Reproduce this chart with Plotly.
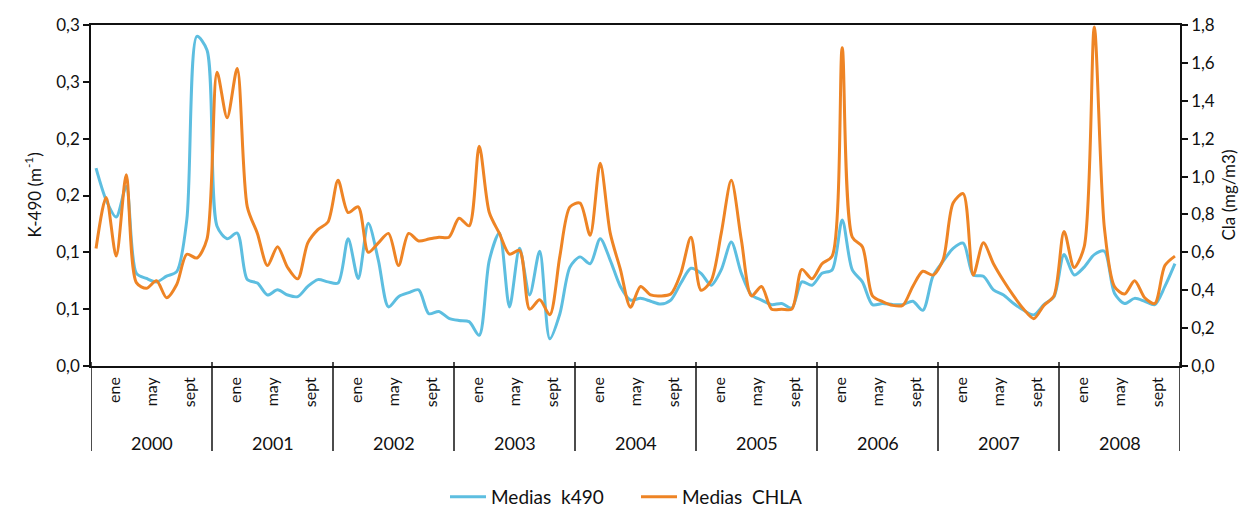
import plotly.graph_objects as go

years = ["2000", "2001", "2002", "2003", "2004", "2005", "2006", "2007", "2008"]
month_labels = ["ene", "may", "sept"]
month_offsets = [1.85, 5.5, 9.3]

k490_left_ticks = [0, 0.05, 0.10, 0.15, 0.20, 0.25, 0.30]
k490_left_text = ["0,0", "0,1", "0,1", "0,2", "0,2", "0,3", "0,3"]

k490 = [
    0.174, 0.146, 0.131, 0.158, 0.0815, 0.077, 0.074, 0.079, 0.083, 0.1285, 0.290, 0.278,
    0.123, 0.112, 0.117, 0.076, 0.073, 0.0625, 0.067, 0.0625, 0.061, 0.070, 0.076, 0.074,
    0.073, 0.112, 0.077, 0.1255, 0.093, 0.052, 0.061, 0.0645, 0.067, 0.046, 0.048, 0.042,
    0.040, 0.039, 0.027, 0.093, 0.117, 0.052, 0.1035, 0.0625, 0.101, 0.024, 0.046, 0.087,
    0.096, 0.090, 0.112, 0.093, 0.070, 0.058, 0.0595, 0.057, 0.0545, 0.058, 0.073, 0.086,
    0.0815, 0.071, 0.0845, 0.109, 0.0815, 0.0625, 0.058, 0.054, 0.055, 0.051, 0.074, 0.071,
    0.0815, 0.0845, 0.1285, 0.0845, 0.074, 0.054, 0.055, 0.054, 0.054, 0.057, 0.049, 0.079,
    0.092, 0.1035, 0.108, 0.080, 0.079, 0.067, 0.0625, 0.055, 0.049, 0.045, 0.054, 0.061,
    0.098, 0.080, 0.087, 0.098, 0.101, 0.064, 0.055, 0.0595, 0.057, 0.054, 0.070, 0.090,
]

chla = [
    0.62, 0.89, 0.58, 1.01, 0.44, 0.41, 0.45, 0.36, 0.43, 0.59, 0.57, 0.67,
    1.55, 1.31, 1.57, 0.84, 0.70, 0.53, 0.63, 0.52, 0.46, 0.65, 0.72, 0.76,
    0.98, 0.81, 0.84, 0.60, 0.65, 0.70, 0.53, 0.70, 0.66, 0.67, 0.68, 0.68,
    0.78, 0.74, 1.16, 0.81, 0.70, 0.59, 0.61, 0.30, 0.35, 0.27, 0.58, 0.84,
    0.86, 0.69, 1.07, 0.70, 0.51, 0.31, 0.42, 0.375, 0.37, 0.38, 0.49, 0.68,
    0.40, 0.45, 0.70, 0.98, 0.665, 0.37, 0.42, 0.30, 0.30, 0.30, 0.51, 0.46,
    0.54, 0.58, 1.68, 0.68, 0.63, 0.37, 0.34, 0.32, 0.32, 0.42, 0.50, 0.48,
    0.56, 0.86, 0.91, 0.48, 0.65, 0.54, 0.45, 0.37, 0.30, 0.25, 0.32, 0.37,
    0.71, 0.52, 0.63, 1.79, 0.73, 0.42, 0.38, 0.45, 0.36, 0.33, 0.53, 0.58,
]

x = list(range(len(k490)))
FONT = "Lato"
BLUE = "#5DBEE0"
ORANGE = "#EE8425"
INK = "#111111"

# page body has an 8px margin, so the figure sits at (8, 8)
W, H = 1240, 499
L, R, T, B = 83, 68, 17, 141
PH = H - T - B  # plot height in px
PW = W - L - R


def py(px_below):
    """paper y for a position given in px below the plot bottom"""
    return -px_below / PH


fig = go.Figure()
fig.add_trace(go.Scatter(
    x=x, y=k490, name="Medias\u00a0 k490", mode="lines",
    line=dict(color=BLUE, width=3, shape="spline", smoothing=0.8),
    yaxis="y",
))
fig.add_trace(go.Scatter(
    x=x, y=chla, name="Medias\u00a0 CHLA", mode="lines",
    line=dict(color=ORANGE, width=3, shape="spline", smoothing=0.8),
    yaxis="y2",
))

tickvals = []
ticktext = []
for yi, _ in enumerate(years):
    for off, lab in zip(month_offsets, month_labels):
        tickvals.append(12 * yi + off)
        ticktext.append(lab)

shapes = []
for k in range(len(years) + 1):
    shapes.append(dict(type="line", xref="x", yref="paper",
                       x0=12 * k - 0.5, x1=12 * k - 0.5, y0=4 / PH, y1=py(85),
                       line=dict(color=INK, width=1.5)))

annotations = []
for yi, yr in enumerate(years):
    annotations.append(dict(x=12 * yi + 5.5, y=py(77), xref="x", yref="paper",
                            text=yr, showarrow=False, xanchor="center", yanchor="middle",
                            font=dict(family=FONT, size=18, color=INK)))
annotations.append(dict(x=(33 - 8 - L) / PW, y=0.5, xref="paper", yref="paper",
                        text="K-490 (m<sup>-1</sup>)", textangle=-90, showarrow=False,
                        xanchor="center", yanchor="middle",
                        font=dict(family=FONT, size=17, color=INK)))
annotations.append(dict(x=(1228 - 8 - L) / PW, y=0.5, xref="paper", yref="paper",
                        text="Cla (mg/m3)", textangle=-90, showarrow=False,
                        xanchor="center", yanchor="middle",
                        font=dict(family=FONT, size=17, color=INK)))

fig.update_layout(
    width=W, height=H,
    margin=dict(l=L, r=R, t=T, b=B, autoexpand=False),
    paper_bgcolor="white", plot_bgcolor="white",
    separators=",.",
    font=dict(family=FONT, size=15, color=INK),
    showlegend=True,
    legend=dict(orientation="h", xref="paper", x=(445 - 8 - L) / PW,
                yref="container", y=(H - 489) / H, xanchor="left", yanchor="middle",
                font=dict(family=FONT, size=19, color=INK),
                itemwidth=36, tracegroupgap=0,
                entrywidth=140, entrywidthmode="pixels"),
    xaxis=dict(range=[-0.5, 107.5], tickvals=tickvals, ticktext=ticktext,
               tickangle=-90, ticks="", showgrid=False, zeroline=False,
               showline=True, linecolor=INK, linewidth=1.5, mirror=True,
               tickfont=dict(family=FONT, size=16, color=INK),
               ticklabelstandoff=3),
    yaxis=dict(range=[0, 0.3], tickvals=k490_left_ticks, ticktext=k490_left_text,
               ticks="outside", ticklen=6, tickwidth=1.5, tickcolor=INK,
               showgrid=False, zeroline=False, showline=True,
               linecolor=INK, linewidth=1.5,
               tickfont=dict(family=FONT, size=17, color=INK)),
    yaxis2=dict(range=[0, 1.8], dtick=0.2, tick0=0, tickformat=".1f",
                overlaying="y", side="right",
                ticks="outside", ticklen=6, tickwidth=1.5, tickcolor=INK,
                showgrid=False, zeroline=False, showline=True,
                linecolor=INK, linewidth=1.5,
                tickfont=dict(family=FONT, size=17, color=INK)),
    shapes=shapes,
    annotations=annotations,
)

fig.write_html("out.html")
